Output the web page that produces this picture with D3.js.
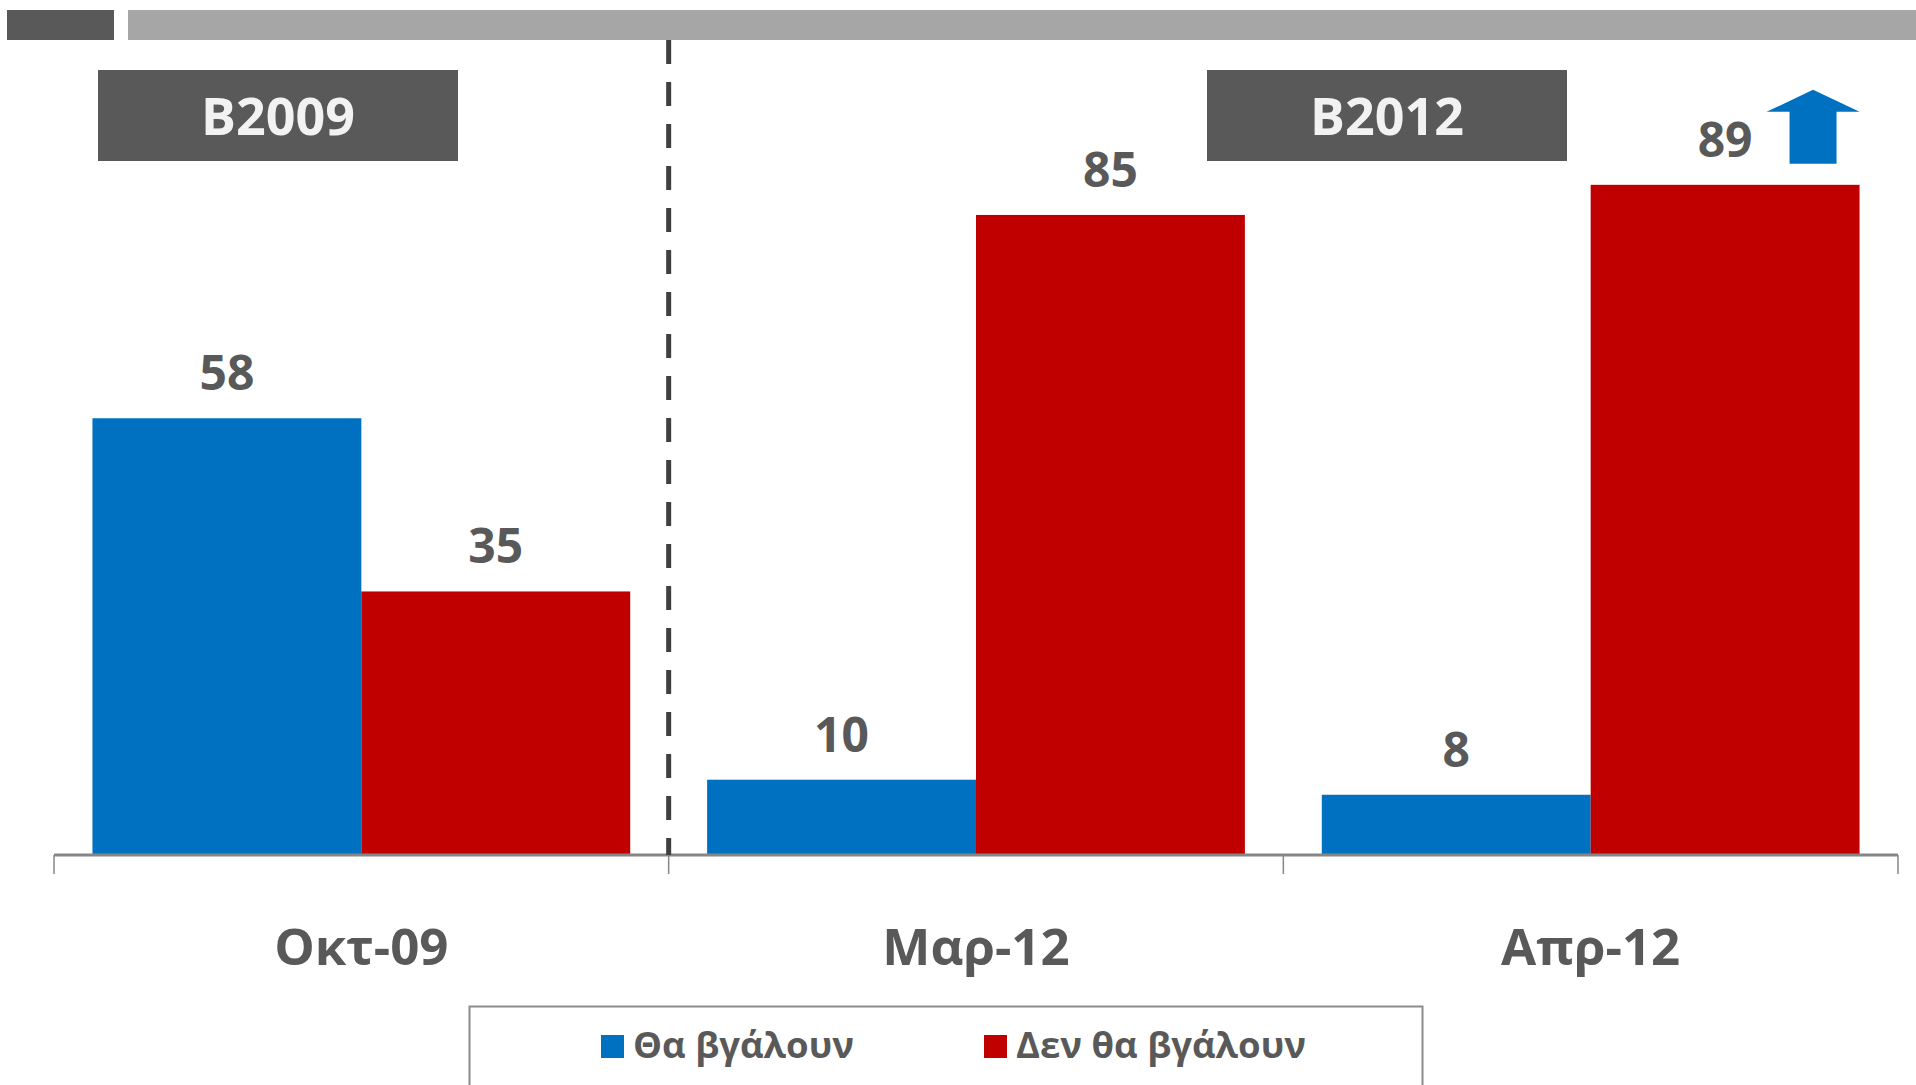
<!DOCTYPE html>
<html>

<head>
    <meta charset="UTF-8">
    <style>
        body {
            margin: 0;
            background: #ffffff;
        }

        text {
            font-family: "Open Sans", "Noto Sans", sans-serif;
            font-weight: bold;
        }
    </style>
    <script src="https://d3js.org/d3.v7.min.js"></script>
    <title>Θα βγάλουν / Δεν θα βγάλουν</title>
</head>

<body>
    <svg id="chart" width="1916" height="1085"></svg>

    <script>
        // datos
        var categories = ["Οκτ-09", "Μαρ-12", "Απρ-12"];
        var seriesNames = ["Θα βγάλουν", "Δεν θα βγάλουν"];
        var thaVgaloun = [58, 10, 8];
        var denThaVgaloun = [35, 85, 89];
        var periodLabels = ["B2009", "B2012"];

        var colors = ["#0070c0", "#c00000"];
        var grey = "#595959";

        var svg = d3.select("#chart");

        // barras superiores
        svg.append("rect").attr("x", 7).attr("y", 10).attr("width", 107).attr("height", 30).attr("fill", grey);
        svg.append("rect").attr("x", 128).attr("y", 10).attr("width", 1788).attr("height", 30).attr("fill", "#a6a6a6");

        var data = categories.map(function(c, i) {
            return { cat: c, values: [thaVgaloun[i], denThaVgaloun[i]] };
        });

        var baseY = 855;
        var x0 = d3.scaleBand().domain(categories).range([54, 1898]).padding(0);
        var x1 = d3.scaleBand().domain(seriesNames).range([0, x0.bandwidth()])
            .paddingInner(0).paddingOuter(0.143);
        var y = d3.scaleLinear().domain([0, 100]).range([baseY, 102]);

        // barras
        var groups = svg.selectAll(".grp")
            .data(data)
            .enter()
            .append("g")
            .attr("class", "grp")
            .attr("transform", function(d) { return "translate(" + x0(d.cat) + ",0)"; });

        groups.selectAll("rect")
            .data(function(d) { return d.values; })
            .enter()
            .append("rect")
            .attr("x", function(d, i) { return x1(seriesNames[i]); })
            .attr("y", function(d) { return y(d); })
            .attr("width", x1.bandwidth())
            .attr("height", function(d) { return baseY - y(d); })
            .attr("fill", function(d, i) { return colors[i]; });

        groups.selectAll(".val")
            .data(function(d) { return d.values; })
            .enter()
            .append("text")
            .attr("class", "val")
            .attr("x", function(d, i) { return x1(seriesNames[i]) + x1.bandwidth() / 2; })
            .attr("y", function(d) { return y(d) - 28; })
            .attr("text-anchor", "middle")
            .attr("font-size", "48px")
            .attr("fill", grey)
            .text(function(d) { return d; });

        // eje x
        var axis = svg.append("g")
            .attr("transform", "translate(0," + baseY + ")");
        axis.append("line")
            .attr("x1", 54).attr("x2", 1898)
            .attr("stroke", "#868686").attr("stroke-width", 3);
        var tickXs = categories.map(function(c) { return x0(c); }).concat([x0.range()[1]]);
        axis.selectAll(".tick")
            .data(tickXs)
            .enter()
            .append("line")
            .attr("x1", function(d) { return d; })
            .attr("x2", function(d) { return d; })
            .attr("y1", 0).attr("y2", 19)
            .attr("stroke", "#868686").attr("stroke-width", 1.5);
        axis.selectAll(".cat")
            .data(categories)
            .enter()
            .append("text")
            .attr("x", function(d) { return x0(d) + x0.bandwidth() / 2; })
            .attr("y", 110)
            .attr("text-anchor", "middle")
            .attr("font-size", "51px")
            .attr("fill", grey)
            .text(function(d) { return d; });

        // linea punteada
        var sepX = x0(categories[1]);
        svg.append("line")
            .attr("x1", sepX).attr("x2", sepX)
            .attr("y1", 40).attr("y2", baseY)
            .attr("stroke", "#404040")
            .attr("stroke-width", 5)
            .attr("stroke-dasharray", "24,18");

        // cajas B2009 / B2012
        var boxX = [98, 1207];
        periodLabels.forEach(function(lbl, i) {
            svg.append("rect")
                .attr("x", boxX[i]).attr("y", 70)
                .attr("width", 360).attr("height", 91)
                .attr("fill", grey);
            svg.append("text")
                .attr("x", boxX[i] + 180).attr("y", 135)
                .attr("text-anchor", "middle")
                .attr("font-size", "52px")
                .attr("fill", "#f2f2f2")
                .text(lbl);
        });

        // flecha
        var last = categories.length - 1;
        var ax = x0(categories[last]) + x1(seriesNames[1]) + x1.bandwidth();
        var ay = y(denThaVgaloun[last]);
        var arrow = [
            [ax - 70, ay - 21], [ax - 23, ay - 21], [ax - 23, ay - 73], [ax, ay - 73],
            [ax - 46.5, ay - 95], [ax - 93, ay - 73], [ax - 70, ay - 73]
        ];
        svg.append("polygon")
            .attr("points", arrow.map(function(p) { return p.join(","); }).join(" "))
            .attr("fill", colors[0]);

        // leyenda
        svg.append("rect")
            .attr("x", 469.5).attr("y", 1006.5)
            .attr("width", 953).attr("height", 100)
            .attr("fill", "none")
            .attr("stroke", "#8c8c8c").attr("stroke-width", 2);
        var legX = [601, 984];
        seriesNames.forEach(function(s, i) {
            svg.append("rect")
                .attr("x", legX[i]).attr("y", 1035)
                .attr("width", 23).attr("height", 23)
                .attr("fill", colors[i]);
            svg.append("text")
                .attr("x", legX[i] + 32).attr("y", 1058)
                .attr("font-size", "36.5px")
                .attr("fill", grey)
                .text(s);
        });
    </script>
</body>

</html>
